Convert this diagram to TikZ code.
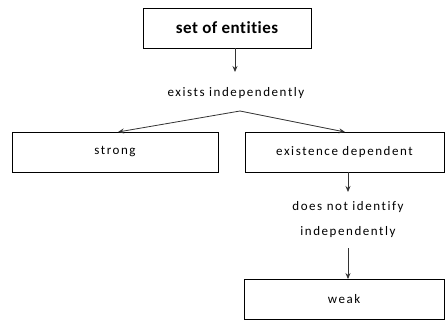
\documentclass[tikz,border=0pt]{standalone}
\usepackage{fontspec}
\setmainfont[Ligatures=NoCommon]{Carlito}
\newfontfamily\lblfont[LetterSpace=12,Ligatures=NoCommon]{Carlito}
\newfontfamily\ttlfont[LetterSpace=3,Ligatures=NoCommon]{Carlito}
\usetikzlibrary{arrows.meta}
\begin{document}
\begin{tikzpicture}[x=1pt,y=-1pt,
  box/.style={draw=black,line width=0.9pt,minimum height=40pt,inner sep=0pt,font=\lblfont\fontsize{13}{15}\selectfont},
  lbl/.style={inner sep=0pt,align=center,font=\lblfont\fontsize{13}{25}\selectfont},
  arr/.style={draw=black!80,line width=0.8pt,-{Stealth[length=6pt,width=5pt]}}]
\useasboundingbox (0,0) rectangle (445,322);
\node[box,minimum width=168pt,font=\ttlfont\bfseries\fontsize{17}{19}\selectfont] (top) at (227,28) {set of entities};
\node[lbl] (ex) at (236,93) {exists independently};
\coordinate (apex) at (240,111);
\node[box,minimum width=206pt] (strong) at (115,152) {strong};
\node[box,minimum width=199pt] (dep) at (344.5,152) {existence dependent};
\node[lbl] (dni) at (348,220) {does not identify\\independently};
\node[box,minimum width=200pt] (weak) at (344,299.5) {weak};
\draw[arr] (top.south -| 235,0) -- (235,72);
\draw[arr] (apex) -- (118,132);
\draw[arr] (apex) -- (345,132);
\draw[arr] (348,172) -- (348,192);
\draw[arr] (348,248) -- (weak.north -| 348,0);
\end{tikzpicture}
\end{document}
